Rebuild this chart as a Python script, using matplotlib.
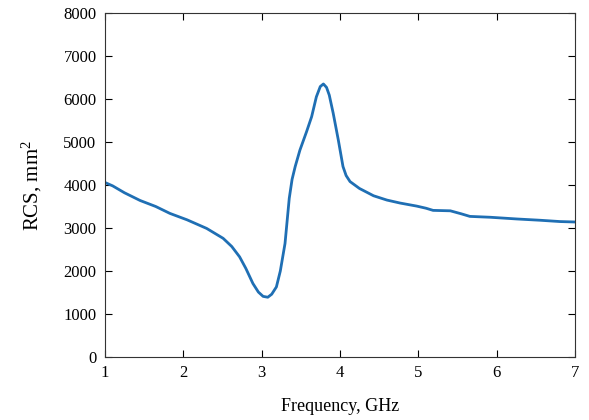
import numpy as np
import matplotlib.pyplot as plt

# frequency (GHz) and RCS (mm^2)
freq = [1.00, 1.10, 1.25, 1.45, 1.65, 1.83, 2.05, 2.30, 2.51, 2.62, 2.72, 2.80, 2.89,
        2.96, 3.02, 3.08, 3.13, 3.19, 3.24, 3.30, 3.354, 3.39, 3.43, 3.49, 3.575,
        3.64, 3.70, 3.75, 3.79, 3.83, 3.865, 3.915, 3.98, 4.04, 4.08, 4.13,
        4.25, 4.43, 4.60, 4.77, 4.98, 5.10, 5.19, 5.41, 5.55, 5.66, 5.92,
        6.26, 6.56, 6.81, 7.00]
rcs = [4060, 3980, 3820, 3640, 3500, 3340, 3190, 2990, 2760, 2570, 2330, 2060, 1710,
       1510, 1410, 1390, 1460, 1630, 2000, 2640, 3690, 4130, 4430, 4810, 5240,
       5590, 6050, 6290, 6350, 6270, 6090, 5670, 5050, 4430, 4220, 4080,
       3920, 3750, 3650, 3580, 3510, 3460, 3410, 3400, 3330, 3270, 3250,
       3210, 3180, 3150, 3140]

plt.rcParams['font.family'] = 'Liberation Serif'
plt.rcParams['mathtext.fontset'] = 'custom'
plt.rcParams['mathtext.rm'] = 'Liberation Serif'

fig = plt.figure(figsize=(5.89, 4.2), dpi=100)
ax = fig.add_axes([0.178, 0.15, 0.798, 0.819])

ax.plot(freq, rcs, color='#1f6fb4', linewidth=2)

ax.set_xlim(1, 7)
ax.set_ylim(0, 8000)
ax.set_xticks(range(1, 8))
ax.set_yticks(range(0, 8001, 1000))
ax.tick_params(direction='in', top=True, right=True, labelsize=12, length=5, pad=6)
ax.set_xlabel('Frequency, GHz', fontsize=13, labelpad=12)
ax.set_ylabel(r'RCS, mm$\mathregular{^2}$', fontsize=15, labelpad=14)
for s in ax.spines.values():
    s.set_color('#333333')

fig.savefig('out.png', dpi=100)
